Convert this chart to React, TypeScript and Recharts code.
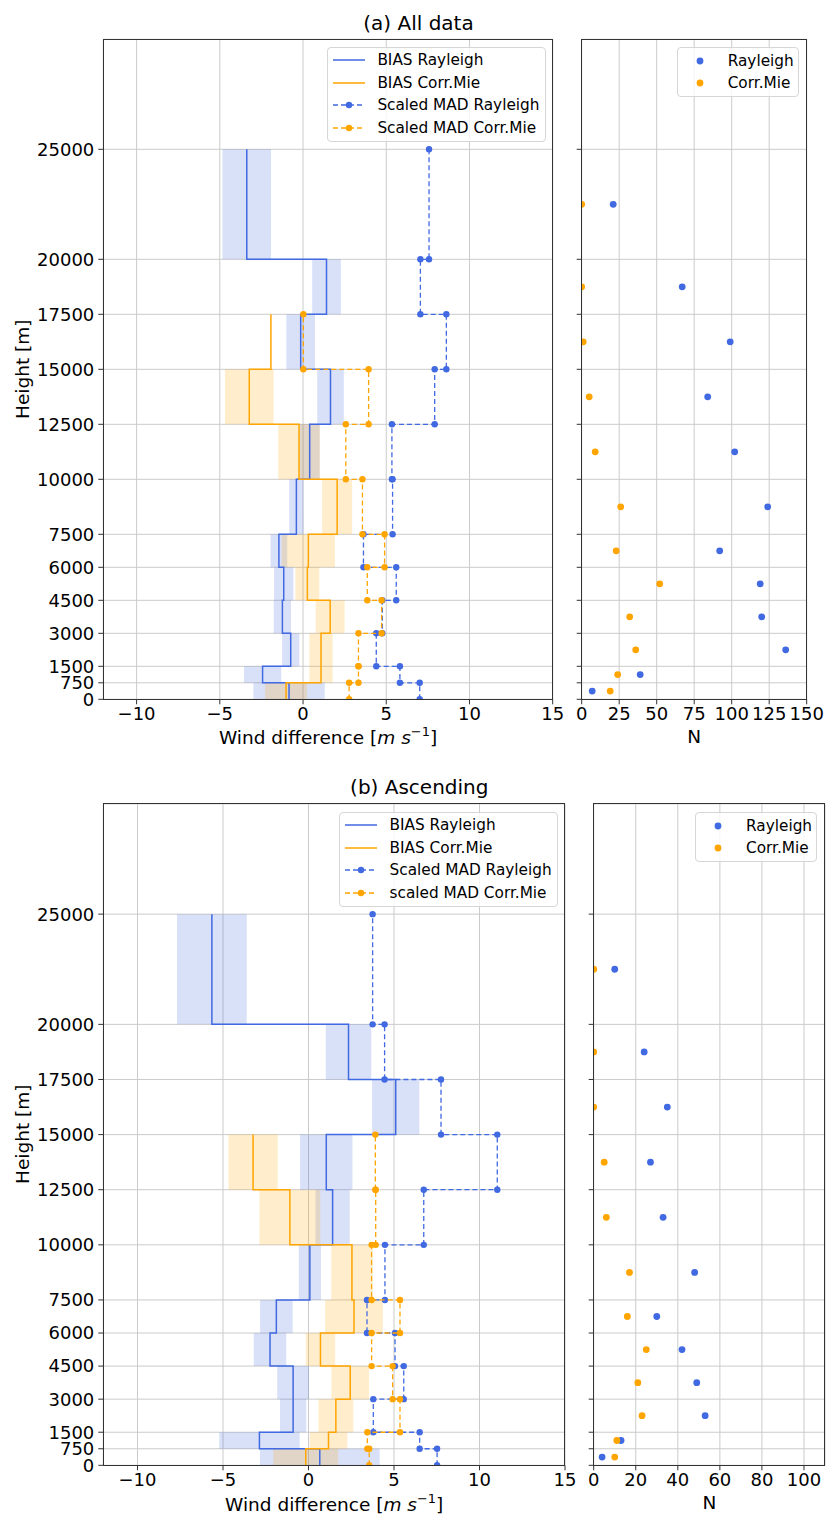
import React from "react";
import {
  ComposedChart,
  Scatter,
  XAxis,
  YAxis,
  CartesianGrid,
  ReferenceArea,
} from "recharts";

const BLUE = "#4169e1";
const ORANGE = "#ffa500";
const FONT = "'DejaVu Sans', Verdana, sans-serif";

// height bins [m], bottom to top
const binLow = [0, 750, 1500, 3000, 4500, 6000, 7500, 10000, 12500, 15000, 17500, 20000];
const binHigh = [750, 1500, 3000, 4500, 6000, 7500, 10000, 12500, 15000, 17500, 20000, 25000];
const binMid = [375, 1125, 2250, 3750, 5250, 6750, 8750, 11250, 13750, 16250, 18750, 22500];
const heightTicks = [0, 750, 1500, 3000, 4500, 6000, 7500, 10000, 12500, 15000, 17500, 20000, 25000];
const windTicks = [-10, -5, 0, 5, 10, 15];
const nTicksA = [0, 25, 50, 75, 100, 125, 150];
const nTicksB = [0, 20, 40, 60, 80, 100];

// (a) All data
const biasRayA = [-0.84, -2.43, -0.74, -1.24, -1.16, -1.45, -0.4, 0.4, 1.65, -0.14, 1.41, -3.38];
const spreadRayA = [2.14, 1.12, 0.52, 0.52, 0.58, 0.5, 0.43, 0.6, 0.8, 0.86, 0.86, 1.46];
const biasMieA = [-1.02, 1.08, 1.08, 1.63, 0.26, 0.32, 2.05, -0.24, -3.23, -1.93];
const spreadMieA = [1.26, 0.7, 0.7, 0.87, 0.72, 1.6, 0.9, 1.25, 1.46, 0];
const madRayA = [7.01, 5.82, 4.4, 4.76, 5.6, 3.63, 5.38, 5.34, 7.91, 8.61, 7.05, 7.57];
const madMieA = [2.77, 3.33, 3.33, 4.72, 3.86, 4.9, 3.57, 2.57, 3.94, 0.02];
const nRayA = [7, 39, 136, 120, 119, 92, 124, 102, 84, 99, 67, 21];
const nMieA = [19, 24, 36, 32, 52, 23, 26, 9, 5, 1, 0, 0];

// (b) Ascending
const biasRayB = [0.66, -2.87, -0.9, -0.9, -2.25, -1.88, 0.08, 1.41, 1.04, 5.1, 2.34, -5.65];
const spreadRayB = [3.5, 2.35, 0.77, 0.93, 0.95, 0.95, 0.65, 1.0, 1.53, 1.38, 1.33, 2.04];
const biasMieB = [-0.16, 1.17, 1.6, 2.44, 0.7, 2.66, 2.54, -1.09, -3.24];
const spreadMieB = [1.9, 1.1, 1.02, 1.1, 0.86, 1.69, 1.21, 1.78, 1.44];
const madRayB = [7.52, 6.5, 3.79, 5.57, 5.06, 3.42, 4.47, 6.74, 11.04, 7.75, 4.45, 3.75];
const madMieB = [3.55, 3.44, 5.35, 4.92, 3.69, 5.35, 3.69, 3.93, 3.91];
const nRayB = [4, 13, 53, 49, 42, 30, 48, 33, 27, 35, 24, 10];
const nMieB = [10, 11, 23, 21, 25, 16, 17, 6, 5, 0, 0, 0];

type Pt = { x: number; y: number };

const stepPoints = (vals: number[]): Pt[] =>
  vals.flatMap((v, i) => [
    { x: v, y: binLow[i] },
    { x: v, y: binHigh[i] },
  ]);

const countPoints = (vals: number[]): Pt[] => vals.map((v, i) => ({ x: v, y: binMid[i] }));

const fmt = (v: number) => (v < 0 ? "\u2212" + Math.abs(v) : String(v));

const dot = (color: string, r: number) => (p: any) =>
  <circle cx={p.cx} cy={p.cy} r={r} fill={color} />;
const noDot = () => <g />;

const tickStyle = { fill: "#000", fontSize: 18, fontFamily: FONT };

type Box = { left: number; top: number; w: number; h: number; x0: number; x1: number; y0: number; y1: number };

function Frame({ box }: { box: Box }) {
  return (
    <div
      style={{
        position: "absolute",
        left: box.x0 - 0.5,
        top: box.y0 - 0.5,
        width: box.x1 - box.x0 + 1,
        height: box.y1 - box.y0 + 1,
        border: "1px solid #333",
        boxSizing: "border-box",
        pointerEvents: "none",
      }}
    />
  );
}

function margins(box: Box) {
  return { top: box.y0 - box.top, right: box.left + box.w - box.x1, bottom: box.top + box.h - box.y1 - 30, left: 0 };
}

function MainChart(props: {
  box: Box;
  biasRay: number[];
  spreadRay: number[];
  biasMie: number[];
  spreadMie: number[];
  madRay: number[];
  madMie: number[];
}) {
  const { box, biasRay, spreadRay, biasMie, spreadMie, madRay, madMie } = props;
  return (
    <div style={{ position: "absolute", left: box.left, top: box.top, width: box.w, height: box.h }}>
      <ComposedChart width={box.w} height={box.h} margin={margins(box)}>
        <CartesianGrid stroke="#cbcbcb" />
        <XAxis
          type="number"
          dataKey="x"
          domain={[-12, 15]}
          ticks={windTicks}
          interval={0}
          tickFormatter={fmt}
          allowDataOverflow
          height={30}
          axisLine={false}
          tickSize={5}
          tickMargin={3}
          tickLine={{ stroke: "#333" }}
          tick={tickStyle}
        />
        <YAxis
          type="number"
          dataKey="y"
          domain={[0, 30000]}
          ticks={heightTicks}
          interval={0}
          allowDataOverflow
          width={box.x0 - box.left}
          axisLine={false}
          tickSize={5}
          tickMargin={4}
          tickLine={{ stroke: "#333" }}
          tick={tickStyle}
        />
        {biasRay.map((v, i) => (
          <ReferenceArea
            key={"br" + i}
            x1={v - spreadRay[i]}
            x2={v + spreadRay[i]}
            y1={binLow[i]}
            y2={binHigh[i]}
            fill={BLUE}
            fillOpacity={0.2}
            stroke="none"
          />
        ))}
        {biasMie.map((v, i) =>
          spreadMie[i] > 0 ? (
            <ReferenceArea
              key={"bm" + i}
              x1={v - spreadMie[i]}
              x2={v + spreadMie[i]}
              y1={binLow[i]}
              y2={binHigh[i]}
              fill={ORANGE}
              fillOpacity={0.2}
              stroke="none"
            />
          ) : null
        )}
        <Scatter
          data={stepPoints(biasRay)}
          fill={BLUE}
          line={{ stroke: BLUE, strokeWidth: 1.5 }}
          shape={noDot}
          isAnimationActive={false}
        />
        <Scatter
          data={stepPoints(biasMie)}
          fill={ORANGE}
          line={{ stroke: ORANGE, strokeWidth: 1.5 }}
          shape={noDot}
          isAnimationActive={false}
        />
        <Scatter
          data={stepPoints(madRay)}
          fill={BLUE}
          line={{ stroke: BLUE, strokeWidth: 1.3, strokeDasharray: "5 3" }}
          shape={dot(BLUE, 3.2)}
          isAnimationActive={false}
        />
        <Scatter
          data={stepPoints(madMie)}
          fill={ORANGE}
          line={{ stroke: ORANGE, strokeWidth: 1.3, strokeDasharray: "5 3" }}
          shape={dot(ORANGE, 3.2)}
          isAnimationActive={false}
        />
      </ComposedChart>
    </div>
  );
}

function SideChart(props: { box: Box; nRay: number[]; nMie: number[]; max: number; ticks: number[] }) {
  const { box, nRay, nMie, max, ticks } = props;
  return (
    <div style={{ position: "absolute", left: box.left, top: box.top, width: box.w, height: box.h }}>
      <ComposedChart width={box.w} height={box.h} margin={margins(box)}>
        <CartesianGrid stroke="#cbcbcb" />
        <XAxis
          type="number"
          dataKey="x"
          domain={[0, max]}
          ticks={ticks}
          interval={0}
          allowDataOverflow
          height={30}
          axisLine={false}
          tickSize={5}
          tickMargin={3}
          tickLine={{ stroke: "#333" }}
          tick={tickStyle}
        />
        <YAxis
          type="number"
          dataKey="y"
          domain={[0, 30000]}
          ticks={heightTicks}
          interval={0}
          allowDataOverflow
          width={box.x0 - box.left}
          axisLine={false}
          tickSize={5}
          tickLine={{ stroke: "#333" }}
          tick={tickStyle}
          tickFormatter={() => ""}
        />
        <Scatter data={countPoints(nRay)} fill={BLUE} shape={dot(BLUE, 3.4)} isAnimationActive={false} />
        <Scatter data={countPoints(nMie)} fill={ORANGE} shape={dot(ORANGE, 3.4)} isAnimationActive={false} />
      </ComposedChart>
    </div>
  );
}

function Caption(props: { cx: number; cy: number; size: number; rotate?: boolean; children: React.ReactNode }) {
  const { cx, cy, size, rotate, children } = props;
  return (
    <div
      style={{
        position: "absolute",
        left: cx - 250,
        top: cy - size / 2,
        width: 500,
        height: size,
        lineHeight: `${size}px`,
        fontSize: size,
        textAlign: "center",
        whiteSpace: "nowrap",
        transform: rotate ? "rotate(-90deg)" : undefined,
      }}
    >
      {children}
    </div>
  );
}

const legendBox: React.CSSProperties = {
  position: "absolute",
  border: "1px solid #d6d6d6",
  borderRadius: 4,
  background: "rgba(255,255,255,0.8)",
  boxSizing: "border-box",
  fontSize: 15.3,
  whiteSpace: "nowrap",
};

function MainLegend({ left, top, labels }: { left: number; top: number; labels: string[] }) {
  const styles = [
    { c: BLUE, dash: false },
    { c: ORANGE, dash: false },
    { c: BLUE, dash: true },
    { c: ORANGE, dash: true },
  ];
  return (
    <div style={{ ...legendBox, left, top, width: 219, height: 95 }}>
      {labels.map((lab, i) => (
        <div
          key={lab}
          style={{ position: "absolute", left: 5, top: 12.6 + 22.5 * i - 10, height: 20, display: "flex", alignItems: "center" }}
        >
          <svg width={32} height={10}>
            <line
              x1={0}
              y1={5}
              x2={32}
              y2={5}
              stroke={styles[i].c}
              strokeWidth={1.5}
              strokeDasharray={styles[i].dash ? "5 3" : undefined}
            />
            {styles[i].dash && <circle cx={16} cy={5} r={3.2} fill={styles[i].c} />}
          </svg>
          <span style={{ marginLeft: 12.7, lineHeight: "20px" }}>{lab}</span>
        </div>
      ))}
    </div>
  );
}

function SideLegend({ left, top }: { left: number; top: number }) {
  const items = [
    { c: BLUE, lab: "Rayleigh" },
    { c: ORANGE, lab: "Corr.Mie" },
  ];
  return (
    <div style={{ ...legendBox, left, top, width: 122, height: 50 }}>
      {items.map((it, i) => (
        <div
          key={it.lab}
          style={{ position: "absolute", left: 17, top: 13.3 + 22 * i - 10, height: 20, display: "flex", alignItems: "center" }}
        >
          <svg width={10} height={10}>
            <circle cx={5} cy={5} r={3.4} fill={it.c} />
          </svg>
          <span style={{ marginLeft: 23, lineHeight: "20px" }}>{it.lab}</span>
        </div>
      ))}
    </div>
  );
}

const windLabel = (
  <>
    Wind difference [<i>m s</i>
    <span style={{ fontSize: "70%", position: "relative", top: "-0.6em" }}>{"\u22121"}</span>]
  </>
);

export default function App() {
  const mainA: Box = { left: 0, top: 0, w: 570, h: 760, x0: 103.3, x1: 552.7, y0: 39.3, y1: 699.3 };
  const sideA: Box = { left: 560, top: 0, w: 267, h: 760, x0: 581.7, x1: 806.7, y0: 39.3, y1: 699.3 };
  const mainB: Box = { left: 0, top: 766, w: 585, h: 751, x0: 103.3, x1: 565, y0: 803.9, y1: 1465.3 };
  const sideB: Box = { left: 570, top: 766, w: 257, h: 751, x0: 593.7, x1: 825, y0: 803.9, y1: 1465.3 };

  return (
    <div
      style={{
        position: "absolute",
        left: 0,
        top: 0,
        width: 827,
        height: 1517,
        background: "#fff",
        fontFamily: FONT,
        color: "#000",
        overflow: "hidden",
      }}
    >
      <MainChart
        box={mainA}
        biasRay={biasRayA}
        spreadRay={spreadRayA}
        biasMie={biasMieA}
        spreadMie={spreadMieA}
        madRay={madRayA}
        madMie={madMieA}
      />
      <SideChart box={sideA} nRay={nRayA} nMie={nMieA} max={150} ticks={nTicksA} />
      <MainChart
        box={mainB}
        biasRay={biasRayB}
        spreadRay={spreadRayB}
        biasMie={biasMieB}
        spreadMie={spreadMieB}
        madRay={madRayB}
        madMie={madMieB}
      />
      <SideChart box={sideB} nRay={nRayB} nMie={nMieB} max={110} ticks={nTicksB} />
      <Frame box={mainA} />
      <Frame box={sideA} />
      <Frame box={mainB} />
      <Frame box={sideB} />

      <Caption cx={418.5} cy={22.5} size={20}>(a) All data</Caption>
      <Caption cx={419.3} cy={787} size={20}>(b) Ascending</Caption>
      <Caption cx={22.5} cy={369.3} size={18.5} rotate>Height [m]</Caption>
      <Caption cx={22.5} cy={1134.6} size={18.5} rotate>Height [m]</Caption>
      <Caption cx={328} cy={738} size={18.5}>{windLabel}</Caption>
      <Caption cx={334.2} cy={1505} size={18.5}>{windLabel}</Caption>
      <Caption cx={694.2} cy={737} size={18.5}>N</Caption>
      <Caption cx={709.3} cy={1503} size={18.5}>N</Caption>

      <MainLegend
        left={326.7}
        top={46.7}
        labels={["BIAS Rayleigh", "BIAS Corr.Mie", "Scaled MAD Rayleigh", "Scaled MAD Corr.Mie"]}
      />
      <MainLegend
        left={338.9}
        top={811.7}
        labels={["BIAS Rayleigh", "BIAS Corr.Mie", "Scaled MAD Rayleigh", "scaled MAD Corr.Mie"]}
      />
      <SideLegend left={676.7} top={46.7} />
      <SideLegend left={695} top={811.7} />
    </div>
  );
}
